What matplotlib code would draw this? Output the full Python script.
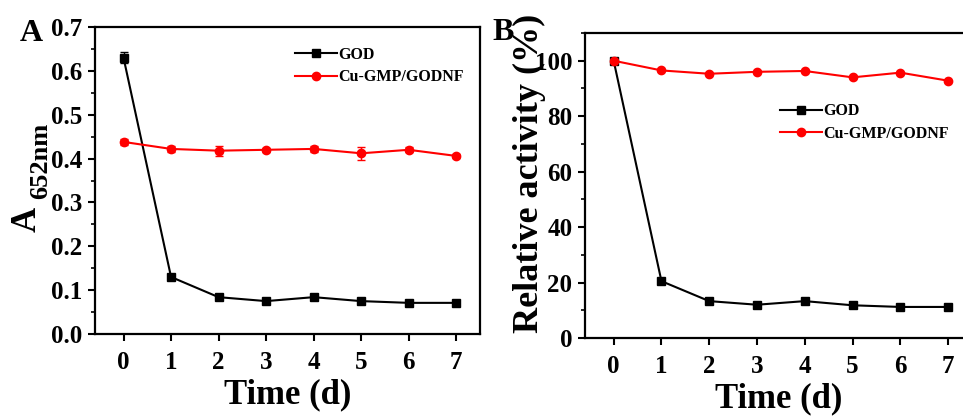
import numpy as np
import matplotlib
matplotlib.use('Agg')
import matplotlib.pyplot as plt
from matplotlib.ticker import MultipleLocator, FormatStrFormatter

plt.rcParams['font.family'] = 'Liberation Serif'
plt.rcParams['font.weight'] = 'bold'

# Storage time (days)
days = [0, 1, 2, 3, 4, 5, 6, 7]

# Panel A: absorbance at 652 nm
god_abs = [0.630, 0.130, 0.084, 0.075, 0.084, 0.075, 0.071, 0.071]
god_abs_err = [0.013, 0.003, 0.003, 0.002, 0.003, 0.002, 0.002, 0.002]
nf_abs = [0.438, 0.422, 0.418, 0.420, 0.422, 0.412, 0.420, 0.406]
nf_abs_err = [0.006, 0.007, 0.011, 0.004, 0.006, 0.015, 0.006, 0.004]

# Panel B: relative activity (%)
god_rel = [100, 20.5, 13.3, 12.0, 13.3, 11.8, 11.2, 11.2]
nf_rel = [100, 96.5, 95.3, 96.0, 96.3, 94.0, 95.7, 92.8]

labels = ['GOD', 'Cu-GMP/GODNF']

fig = plt.figure(figsize=(9.63, 4.17), dpi=100)
W, H = 963, 417


def px_axes(left, top, right, bottom):
    return fig.add_axes([left / W, 1 - bottom / H, (right - left) / W, (bottom - top) / H])


def px_text(x, y, s, **kw):
    return fig.text(x / W, 1 - y / H, s, fontweight='bold', **kw)


def style(ax):
    for s in ax.spines.values():
        s.set_linewidth(1.6)
    ax.tick_params(axis='both', which='major', direction='out', length=5, width=1.5,
                   labelsize=18, pad=4)
    ax.tick_params(axis='x', which='major', pad=7)
    ax.tick_params(axis='y', which='minor', direction='out', length=3, width=1.2)
    ax.tick_params(axis='x', which='minor', bottom=False)
    ax.set_xlim(-0.6, 7.5)
    ax.set_xticks(days)
    ax.set_xlabel('Time (d)', fontsize=25, fontweight='bold', labelpad=3)


leg_kw = dict(loc='upper left', frameon=False, handlelength=2.6, handletextpad=0.1,
              borderpad=0, borderaxespad=0, labelspacing=0.4,
              prop={'weight': 'bold', 'size': 11.5})

# ---- Panel A ----
axA = px_axes(95, 27, 480, 334)
style(axA)
axA.errorbar(days, god_abs, yerr=god_abs_err, color='black', marker='s', ms=6,
             lw=1.5, capsize=3, elinewidth=1, capthick=1, label=labels[0])
axA.errorbar(days, nf_abs, yerr=nf_abs_err, color='#ff0000', marker='o', ms=6,
             lw=1.5, capsize=3, elinewidth=1, capthick=1, label=labels[1])
axA.set_ylim(0, 0.7)
axA.yaxis.set_major_locator(MultipleLocator(0.1))
axA.yaxis.set_minor_locator(MultipleLocator(0.05))
axA.yaxis.set_major_formatter(FormatStrFormatter('%.1f'))
# y label "A" with a lowered "652nm" subscript
px_text(36, 219, 'A', fontsize=25, rotation=90, rotation_mode='anchor',
        ha='center', va='baseline')
px_text(47, 161, '652nm', fontsize=19, rotation=90, rotation_mode='anchor',
        ha='center', va='baseline')
hA, lA = axA.get_legend_handles_labels()
hA = [h[0] for h in hA]
axA.legend(hA, lA, bbox_to_anchor=(0.52, 0.935), **leg_kw)
px_text(20, 41, 'A', fontsize=23)

# ---- Panel B ----
axB = px_axes(585, 33, 972, 338)
style(axB)
axB.plot(days, god_rel, color='black', marker='s', ms=6, lw=1.5, label=labels[0])
axB.plot(days, nf_rel, color='#ff0000', marker='o', ms=6, lw=1.5, label=labels[1])
axB.set_ylim(0, 110)
axB.yaxis.set_major_locator(MultipleLocator(20))
axB.yaxis.set_minor_locator(MultipleLocator(10))
axB.set_ylabel('Relative activity (%)', fontsize=26, fontweight='bold')
axB.yaxis.set_label_coords(-0.1, 0.54)
axB.legend(bbox_to_anchor=(0.505, 0.77), **leg_kw)
px_text(492, 40, 'B', fontsize=23)

fig.savefig('out.png', dpi=100)
